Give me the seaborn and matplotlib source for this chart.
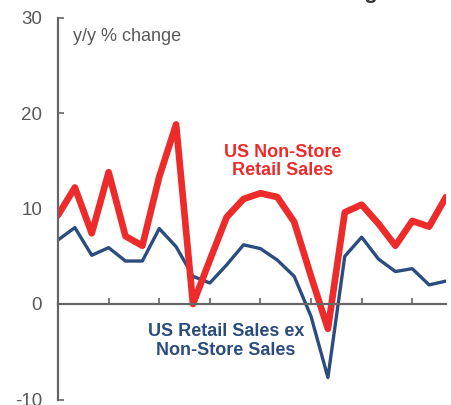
import numpy as np
import pandas as pd
import matplotlib.pyplot as plt
import seaborn as sns

# quarterly y/y % change
quarters = list(range(24))
non_store = [9.3, 12.2, 7.4, 13.8, 7.1, 6.1, 13.3, 18.8, 0.0, 4.6, 9.1, 11.0,
             11.6, 11.2, 8.6, 2.9, -2.6, 9.6, 10.4, 8.4, 6.1, 8.7, 8.1, 11.2]
ex_non_store = [6.7, 8.0, 5.1, 5.9, 4.5, 4.5, 7.9, 6.0, 2.9, 2.2, 4.1, 6.2,
                5.8, 4.6, 2.9, -1.3, -7.7, 5.0, 7.0, 4.7, 3.4, 3.7, 2.0, 2.4]
yticks = [-10, 0, 10, 20, 30]
xticks = [0, 3, 6, 9, 12, 15, 18, 21]

red = '#EE2B2B'
blue = '#2B4C7E'
grey = '#666666'

sns.set_style('white')
plt.rcParams['font.family'] = ['Liberation Sans', 'DejaVu Sans']

df = pd.DataFrame({'q': quarters, 'non_store': non_store, 'ex': ex_non_store})

fig = plt.figure(figsize=(4.51, 4.05), dpi=100)
ax = fig.add_axes([58/451, 5.5/405, 388/451, 382/405])

sns.lineplot(data=df, x='q', y='ex', color=blue, linewidth=2.4, ax=ax)
sns.lineplot(data=df, x='q', y='non_store', color=red, linewidth=4.8, ax=ax)

ax.set_xlim(0, 23)
ax.set_ylim(-10, 30)
ax.set_xlabel('')
ax.set_ylabel('')

for s in ['top', 'right']:
    ax.spines[s].set_visible(False)
ax.spines['left'].set_color(grey)
ax.spines['left'].set_linewidth(1.6)
ax.spines['bottom'].set_position(('data', 0))
ax.spines['bottom'].set_color(grey)
ax.spines['bottom'].set_linewidth(1.6)

ax.set_yticks(yticks)
ax.set_yticklabels([str(v) for v in yticks])
ax.tick_params(axis='y', direction='in', length=4, width=1.2, color=grey,
               labelcolor='#595959', labelsize=13.5, pad=11.5, left=True)
ax.set_xticks(xticks)
ax.set_xticklabels([])
ax.tick_params(axis='x', direction='in', length=4, width=1.2, color=grey, bottom=True)

ax.text(0.9, 28.0, 'y/y % change', color='#595959', fontsize=13, va='center', ha='left')
ax.text(13.3, 14.9, 'US Non-Store\nRetail Sales', color=red, fontsize=13,
        fontweight='bold', ha='center', va='center', linespacing=1.12)
ax.text(9.95, -3.9, 'US Retail Sales ex\nNon-Store Sales', color=blue, fontsize=13,
        fontweight='bold', ha='center', va='center', linespacing=1.12)

fig.text(0.53, 1.018, 'Online Sales Are Booming', color='#333333', fontsize=16,
         fontweight='bold', ha='center', va='center')

fig.savefig('out.png', dpi=100)
